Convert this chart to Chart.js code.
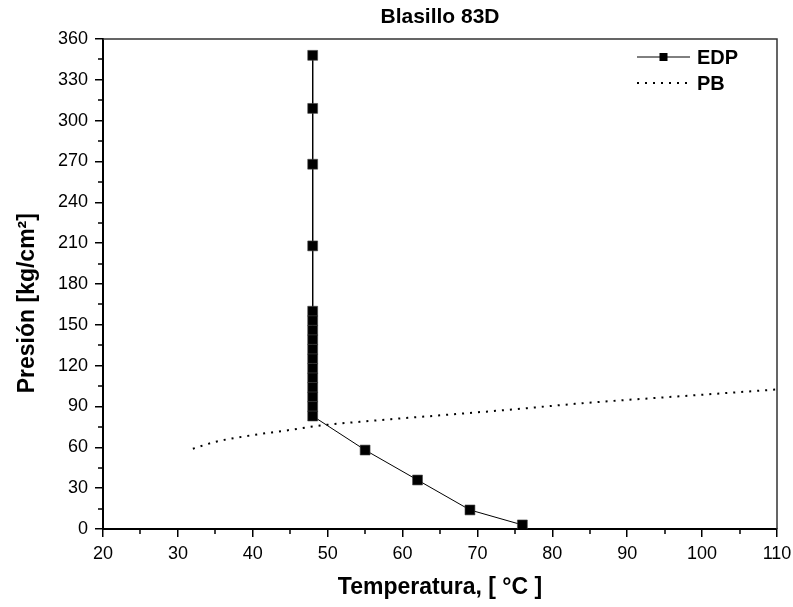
<!DOCTYPE html>
<html>
<head>
<meta charset="utf-8">
<title>Blasillo 83D</title>
<script src="https://cdn.jsdelivr.net/npm/chart.js@4/dist/chart.umd.min.js"></script>
<style>
  html, body { margin: 0; padding: 0; background: #fff; }
  #wrap { width: 793px; height: 607px; }
</style>
</head>
<body>
<div id="wrap"><canvas id="presionChart" width="793" height="607"></canvas></div>
<script>
// EDP series (temperature, pressure)
const edpTemp = [48, 48, 48, 48, 48, 48, 48, 48, 48, 48, 48, 48, 48, 48, 48, 48, 55, 62, 69, 76];
const edpPres = [348, 309, 268, 208, 160, 153, 146, 139, 132, 125, 118, 111, 104, 97, 90, 83, 58, 36, 14, 3];

// PB curve
const pbTemp = [32, 35, 40, 44, 49, 57, 65, 75, 84, 97, 110];
const pbPres = [59, 64, 69, 72, 76, 80, 83.5, 88, 92.4, 97.5, 102.5];

// Axis ticks
const xTicks = [20, 30, 40, 50, 60, 70, 80, 90, 100, 110];
const yTicks = [0, 30, 60, 90, 120, 150, 180, 210, 240, 270, 300, 330, 360];
const xMinor = [25, 35, 45, 55, 65, 75, 85, 95, 105];
const yMinor = [15, 45, 75, 105, 135, 165, 195, 225, 255, 285, 315, 345];

const fontFamily = '"Liberation Sans", Arial, sans-serif';

const toPoints = (xs, ys) => xs.map((x, i) => ({ x: x, y: ys[i] }));

// Top/right edges of the plot box
const framePlugin = {
    id: 'frame',
    afterDraw(chart) {
        const { ctx, chartArea: a } = chart;
        ctx.save();
        ctx.strokeStyle = '#333';
        ctx.lineWidth = 1.5;
        ctx.beginPath();
        ctx.moveTo(a.left, a.top);
        ctx.lineTo(a.right, a.top);
        ctx.lineTo(a.right, a.bottom);
        ctx.stroke();
        ctx.restore();
    }
};

// Short minor tick marks between the labelled ones
const minorTickPlugin = {
    id: 'minorTicks',
    afterDraw(chart) {
        const { ctx, chartArea: a, scales } = chart;
        ctx.save();
        ctx.strokeStyle = '#000';
        ctx.lineWidth = 1.5;
        ctx.beginPath();
        xMinor.forEach(v => {
            const px = Math.round(scales.x.getPixelForValue(v));
            ctx.moveTo(px, a.bottom);
            ctx.lineTo(px, a.bottom + 5);
        });
        yMinor.forEach(v => {
            const py = Math.round(scales.y.getPixelForValue(v));
            ctx.moveTo(a.left, py);
            ctx.lineTo(a.left - 5, py);
        });
        ctx.stroke();
        ctx.restore();
    }
};

// Legend in the top right corner of the plot
const legendPlugin = {
    id: 'cornerLegend',
    afterDraw(chart) {
        const { ctx, chartArea: a } = chart;
        const x0 = a.right - 140, x1 = a.right - 87, tx = a.right - 80;
        ctx.save();
        ctx.font = 'bold 20px ' + fontFamily;
        ctx.fillStyle = '#000';
        ctx.textBaseline = 'middle';
        chart.data.datasets.forEach((ds, i) => {
            const y = a.top + 18 + i * 26;
            ctx.strokeStyle = ds.borderColor;
            ctx.lineWidth = ds.borderWidth;
            ctx.setLineDash(ds.borderDash || []);
            ctx.beginPath();
            ctx.moveTo(x0, y);
            ctx.lineTo(x1, y);
            ctx.stroke();
            ctx.setLineDash([]);
            if (ds.pointRadius > 0) {
                ctx.fillRect((x0 + x1) / 2 - 4, y - 4, 8, 8);
            }
            ctx.fillText(ds.label, tx, y + 1);
        });
        ctx.restore();
    }
};

const ctx = document.getElementById('presionChart').getContext('2d');

const presionChart = new Chart(ctx, {
    type: 'scatter',
    data: {
        datasets: [
            {
                label: 'EDP',
                data: toPoints(edpTemp, edpPres),
                showLine: true,
                borderColor: '#000',
                borderWidth: 1,
                pointStyle: 'rect',
                pointRadius: 7,
                pointHoverRadius: 7,
                pointBackgroundColor: '#000',
                pointBorderColor: '#444',
                pointBorderWidth: 0.6
            },
            {
                label: 'PB',
                data: toPoints(pbTemp, pbPres),
                showLine: true,
                borderColor: '#000',
                borderWidth: 2,
                borderDash: [2, 6],
                pointRadius: 0,
                cubicInterpolationMode: 'monotone'
            }
        ]
    },
    options: {
        responsive: false,
        animation: false,
        layout: { padding: { top: 0, right: 16, bottom: 0, left: 0 } },
        plugins: {
            legend: { display: false },
            tooltip: { enabled: false },
            title: {
                display: true,
                text: 'Blasillo 83D',
                fullSize: false,
                color: '#000',
                font: { family: fontFamily, size: 21, weight: 'bold' },
                padding: { top: 4.4, bottom: 9.4 }
            }
        },
        scales: {
            x: {
                type: 'linear',
                min: 20,
                max: 110,
                afterFit: s => {
                    s.height = 78;
                    // let the last label run to the canvas edge
                    s.paddingRight = 0;
                },
                afterBuildTicks: s => { s.ticks = xTicks.map(v => ({ value: v })); },
                ticks: {
                    color: '#000',
                    padding: 6,
                    maxRotation: 0,
                    font: { family: fontFamily, size: 18 }
                },
                grid: { drawOnChartArea: false, tickLength: 8, color: '#000', lineWidth: 1.5 },
                border: { color: '#000', width: 2 },
                title: {
                    display: true,
                    text: 'Temperatura, [ °C ]',
                    color: '#000',
                    font: { family: fontFamily, size: 23, weight: 'bold' },
                    padding: { top: 0, bottom: 6 }
                }
            },
            y: {
                type: 'linear',
                min: 0,
                max: 360,
                afterFit: s => { s.width = 103; },
                afterBuildTicks: s => { s.ticks = yTicks.map(v => ({ value: v })); },
                ticks: {
                    color: '#000',
                    padding: 7,
                    font: { family: fontFamily, size: 18 }
                },
                grid: { drawOnChartArea: false, tickLength: 8, color: '#000', lineWidth: 1.5 },
                border: { color: '#000', width: 2 },
                title: {
                    display: true,
                    // trailing spaces push the title a little below the middle
                    text: 'Presión [kg/cm²]      ',
                    color: '#000',
                    font: { family: fontFamily, size: 23, weight: 'bold' },
                    padding: { top: 14, bottom: 0 }
                }
            }
        }
    },
    plugins: [framePlugin, minorTickPlugin, legendPlugin]
});
</script>
</body>
</html>
